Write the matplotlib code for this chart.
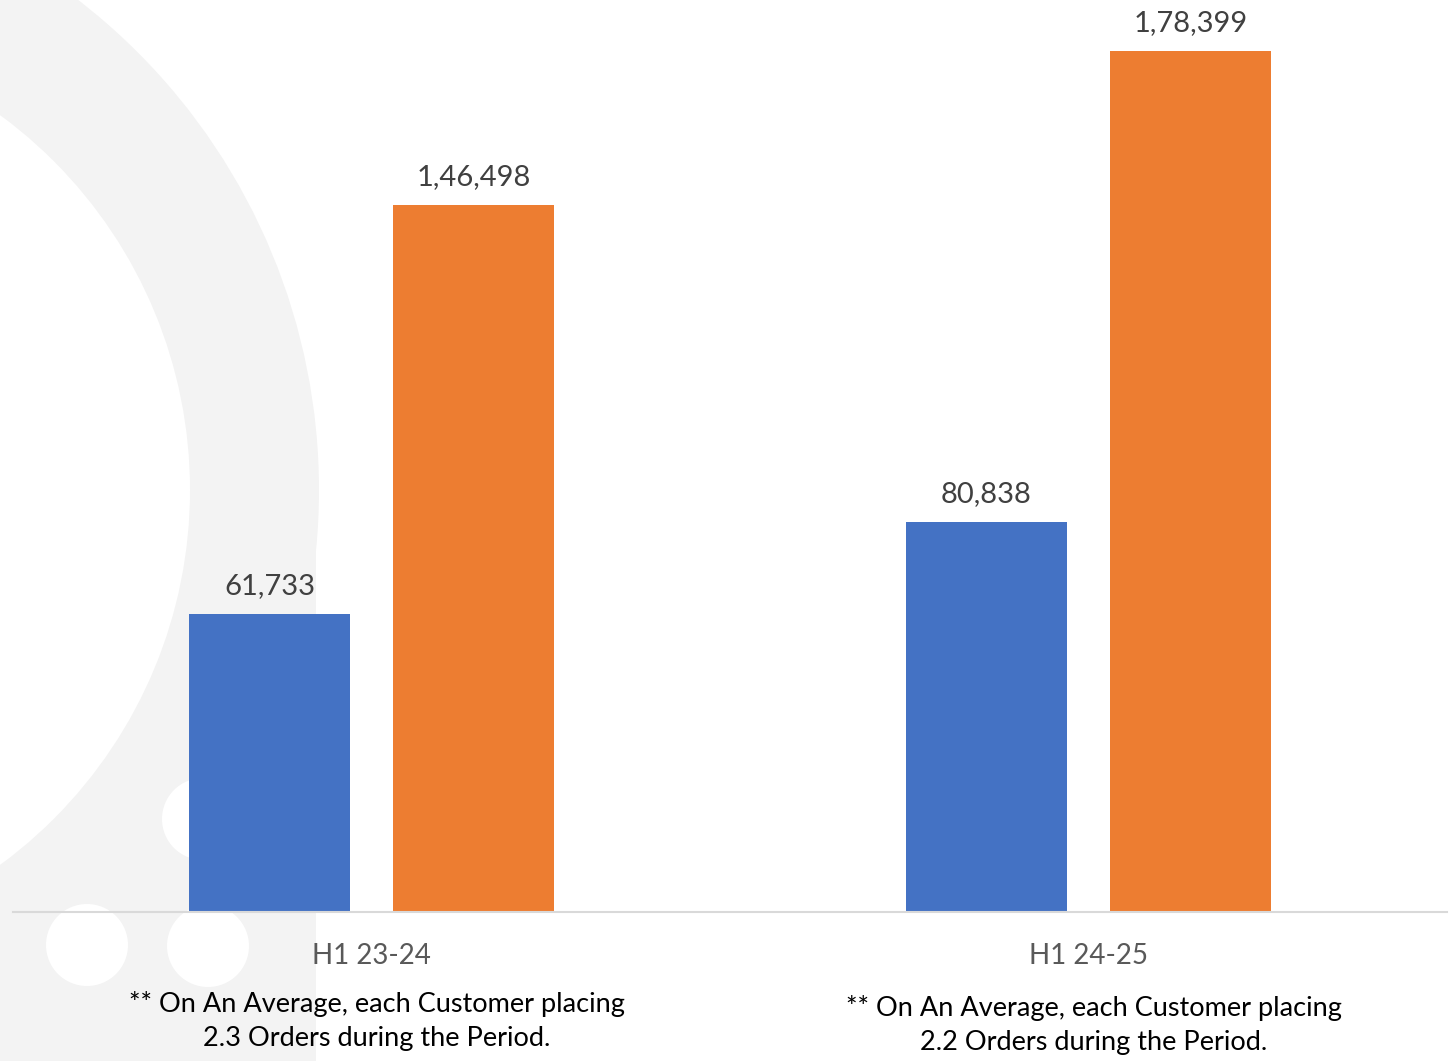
import matplotlib
matplotlib.use('Agg')
import matplotlib.pyplot as plt
from matplotlib.patches import Circle, Rectangle
import numpy as np

# Data
categories = ['H1 23-24', 'H1 24-25']
customers = [61733, 80838]
orders = [146498, 178399]
notes = ['** On An Average, each Customer placing\n2.3 Orders during the Period.',
         '** On An Average, each Customer placing\n2.2 Orders during the Period.']
note_drop = [57, 60]   # points below the axis line

BLUE = '#4472c4'
ORANGE = '#ed7d31'
GREY_BG = '#f3f3f3'
FONT = ['Lato', 'DejaVu Sans']

W, H = 1449, 1061


def indian_fmt(n):
    s = str(int(n))
    if len(s) <= 3:
        return s
    head, tail = s[:-3], s[-3:]
    parts = []
    while len(head) > 2:
        parts.insert(0, head[-2:])
        head = head[:-2]
    if head:
        parts.insert(0, head)
    return ','.join(parts) + ',' + tail


fig = plt.figure(figsize=(W / 100, H / 100), dpi=100)

# Decorative background (pixel coordinates)
bg = fig.add_axes([0, 0, 1, 1], zorder=0)
bg.set_xlim(0, W)
bg.set_ylim(H, 0)
bg.axis('off')
bg.add_patch(Circle((-300, 490), 619, color=GREY_BG, lw=0))
bg.add_patch(Rectangle((0, 490), 316, H - 490, color=GREY_BG, lw=0))
bg.add_patch(Circle((-275, 490), 465, color='white', lw=0))
for cx, cy in [(87, 945), (208, 946), (203, 819)]:
    bg.add_patch(Circle((cx, cy), 41, color='white', lw=0))

# Main chart
left, right, top, base = 13, 1447, 51, 912
ax = fig.add_axes([left / W, (H - base) / H, (right - left) / W, (base - top) / H], zorder=1)
ax.patch.set_alpha(0)

x = np.arange(len(categories))
bw = 161 / 717
off = 102 / 717
b1 = ax.bar(x - off, customers, bw, color=BLUE)
b2 = ax.bar(x + off, orders, bw, color=ORANGE)

ax.set_xlim(-0.5, 1.5)
ax.set_ylim(0, max(orders))

for bars, vals in [(b1, customers), (b2, orders)]:
    for rect, v in zip(bars, vals):
        ax.annotate(indian_fmt(v), (rect.get_x() + rect.get_width() / 2, v),
                    xytext=(0, 11), textcoords='offset points', ha='center', va='bottom',
                    fontsize=21, color='#404040', family=FONT, annotation_clip=False)

for s in ['top', 'right', 'left']:
    ax.spines[s].set_visible(False)
ax.spines['bottom'].set_color('#d9d9d9')
ax.spines['bottom'].set_linewidth(1.5)
ax.set_yticks([])
ax.set_xticks(x)
ax.set_xticklabels(categories, fontsize=20, color='#595959', family=FONT)
ax.tick_params(axis='x', length=0, pad=22)

for xi, note, d in zip(x, notes, note_drop):
    ax.annotate(note, (xi, 0), xytext=(4, -d), textcoords='offset points',
                ha='center', va='top', fontsize=19.5, color='black', family=FONT,
                linespacing=1.45, annotation_clip=False)

fig.savefig('out.png', dpi=100)
